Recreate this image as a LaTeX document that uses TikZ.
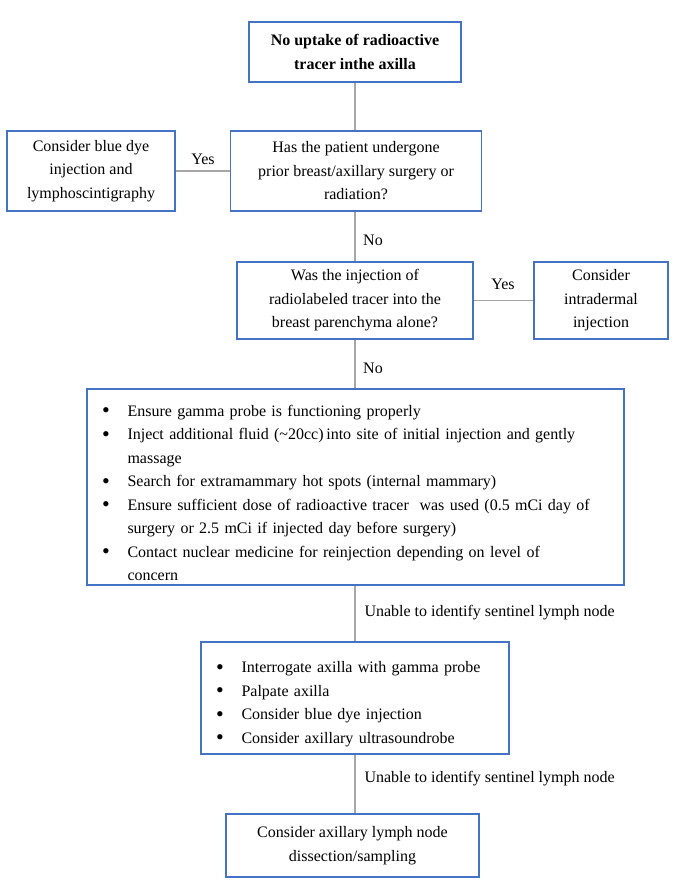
\documentclass[tikz,border=0pt]{standalone}
\usepackage{fontspec}
\setmainfont{Liberation Serif}
\usepackage{tikz}
\definecolor{boxblue}{RGB}{68,114,196}
\definecolor{linegray}{RGB}{166,166,166}
\newcommand{\bitem}{\par\noindent\hangindent=28.5pt\hangafter=1%
  \makebox[28.5pt][l]{\hspace{3pt}\raisebox{-1.5pt}{\smash{\fontsize{22}{22}\selectfont\textbullet}}}}
\tikzset{
  flowbox/.style={draw=boxblue,line width=1.6pt,align=center,inner sep=4pt},
  listbox/.style={draw=boxblue,line width=1.6pt,align=left,inner xsep=12pt,inner ysep=4pt},
  link/.style={draw=linegray,line width=1.6pt}
}

\begin{document}
\begin{tikzpicture}[x=1pt,y=-1pt,font=\fontsize{16}{23.5}\selectfont]
      \useasboundingbox (0,0) rectangle (680,892);
      % Question boxes
      \node[flowbox,minimum width=212pt,minimum height=60pt,font=\fontsize{16}{24}\selectfont\bfseries] (uptake) at (355,52) {No uptake of radioactive\\tracer inthe axilla};
      \node[flowbox,minimum width=251pt,minimum height=80pt] (surgery) at (356,171) {Has the patient undergone\\prior breast/axillary surgery or\\radiation?};
      \node[flowbox,minimum width=168pt,minimum height=80pt] (bluedye) at (91,171) {Consider blue dye\\injection and\\lymphoscintigraphy};
      \node[flowbox,minimum width=236pt,minimum height=77pt] (injection) at (355,300.5) {Was the injection of\\radiolabeled tracer into the\\breast parenchyma alone?};
      \node[flowbox,minimum width=134pt,minimum height=77pt] (intradermal) at (601,300.5) {Consider\\intradermal\\injection};
      % Checklists
      \node[listbox,text width=513pt,minimum height=194pt] (checks) at (355.5,487) {%
        \bitem Ensure gamma probe is functioning properly
        \bitem Inject additional fluid (\textasciitilde20cc)\,into site of initial injection and gently\newline massage
        \bitem Search for extramammary hot spots (internal mammary)
        \bitem Ensure sufficient dose of radioactive tracer\ \ was used (0.5 mCi day of\newline surgery or 2.5 mCi if injected day before surgery)
        \bitem Contact nuclear medicine for reinjection depending on level of\newline concern\par};
      \node[listbox,text width=284pt,minimum height=112pt] (axilla) at (355,698) {%
        \bitem Interrogate axilla with gamma probe
        \bitem Palpate axilla
        \bitem Consider blue dye injection
        \bitem Consider axillary ultrasoundrobe\par};
      \node[flowbox,minimum width=253pt,minimum height=63pt] (dissection) at (352.5,845.5) {Consider axillary lymph node\\dissection/sampling};
      % Connectors
      \draw[link] (uptake.south) -- (uptake.south |- surgery.north);
      \draw[link] (surgery.west) -- (bluedye.east);
      \draw[link] (injection.north |- surgery.south) -- (injection.north);
      \draw[link] (injection.east) -- (intradermal.west);
      \draw[link] (injection.south) -- (injection.south |- checks.north);
      \draw[link] (checks.south -| axilla.north) -- (axilla.north);
      \draw[link] (axilla.south) -- (axilla.south |- dissection.north);
      % Labels
      \node (yesleft) at (203,159) {Yes};
      \node (yesright) at (503,284) {Yes};
      \node (nofirst) at (373,240) {No};
      \node (nosecond) at (373,368) {No};
      \node[anchor=west] (unablefirst) at (361,613) {Unable to identify sentinel lymph node};
      \node[anchor=west] (unablesecond) at (361,779) {Unable to identify sentinel lymph node};
    \end{tikzpicture}
\end{document}
